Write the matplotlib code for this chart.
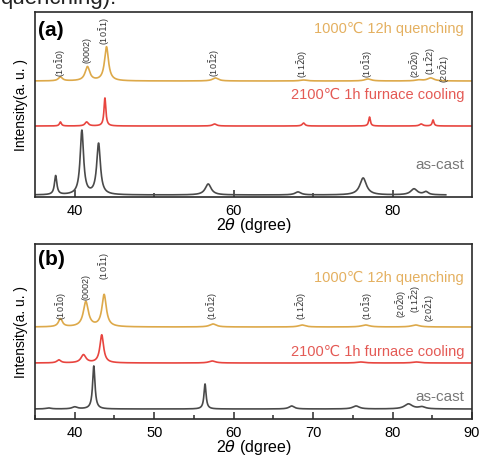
import numpy as np
import matplotlib
matplotlib.use("Agg")
import matplotlib.pyplot as plt
from matplotlib.ticker import MultipleLocator, FixedLocator

plt.rcParams['font.family'] = ['Liberation Sans', 'DejaVu Sans']
plt.rcParams['mathtext.fontset'] = 'dejavusans'

GOLD = '#DDA94A'
RED = '#E8453F'
DARK = '#4A4A4A'
GOLD_TXT = '#E4B060'
RED_TXT = '#E45A55'
GRAY_TXT = '#777777'

# ---- Panel (a) ----
a_gold_base = 116
a_gold_pos = [38.2, 41.6, 44.0, 57.7, 68.8, 76.9, 83.3, 84.8]
a_gold_hgt = [4, 14, 34, 3, 1, 2, 1, 3]
a_gold_wid = [0.3, 0.35, 0.3, 0.45, 0.5, 0.5, 0.5, 0.5]

a_red_base = 71
a_red_pos = [38.2, 41.5, 43.8, 57.6, 68.8, 77.1, 83.6, 85.1]
a_red_hgt = [4, 4, 28, 2, 3, 9, 2, 6]
a_red_wid = [0.15, 0.25, 0.14, 0.3, 0.2, 0.13, 0.25, 0.13]

a_cast_base = 2
a_cast_pos = [37.6, 40.9, 43.0, 56.8, 68.1, 76.3, 82.7, 84.2]
a_cast_hgt = [19, 64, 51, 11, 3, 17, 6, 3]
a_cast_wid = [0.18, 0.26, 0.28, 0.45, 0.45, 0.5, 0.5, 0.35]
a_cast_end = 86.7

# ---- Panel (b) ----
b_gold_base = 92
b_gold_pos = [38.2, 41.4, 43.7, 57.4, 68.6, 76.6, 82.9]
b_gold_hgt = [8, 25, 32, 3, 2, 2, 2]
b_gold_wid = [0.3, 0.38, 0.33, 0.5, 0.5, 0.6, 0.6]

b_red_base = 56
b_red_pos = [38.0, 41.1, 43.4, 57.3, 76.0, 83.0]
b_red_hgt = [3, 8, 28, 2, 1, 1]
b_red_wid = [0.3, 0.38, 0.28, 0.5, 0.6, 0.6]

b_cast_base = 10
b_cast_pos = [36.7, 40.0, 42.4, 56.4, 67.3, 75.4, 82.0, 83.7]
b_cast_hgt = [1, 2, 43, 25, 3, 3, 5, 2]
b_cast_wid = [0.4, 0.4, 0.18, 0.16, 0.4, 0.5, 0.6, 0.5]

# Miller index labels
hkl = [r'(10$\bar{1}$0)', '(0002)', r'(10$\bar{1}$1)', r'(10$\bar{1}$2)',
       r'(11$\bar{2}$0)', r'(10$\bar{1}$3)', r'(20$\bar{2}$0)',
       r'(11$\bar{2}$2)', r'(20$\bar{2}$1)']
a_hkl_x = [38.2, 41.5, 43.8, 57.6, 68.7, 76.8, 82.9, 84.8, 86.5]
a_hkl_y = [121, 135, 153, 121, 120, 120, 120, 123, 115]
b_hkl_x = [38.4, 41.4, 43.8, 57.3, 68.6, 76.8, 81.1, 82.9, 84.6]
b_hkl_y = [100, 120, 140, 100, 100, 100, 102, 107, 98]

series_names = ['1000\u2103 12h quenching', '2100\u2103 1h furnace cooling', 'as-cast']


def pattern(x, base, pos, hgt, wid):
    y = np.full_like(x, float(base))
    for c, h, w in zip(pos, hgt, wid):
        y += h * w ** 2 / ((x - c) ** 2 + w ** 2)
    return y


fig = plt.figure(figsize=(4.8, 4.6), dpi=100)
ax_a = fig.add_axes([35 / 480, 1 - 198 / 460, 437 / 480, 185 / 460])
ax_b = fig.add_axes([35 / 480, 1 - 420 / 460, 437 / 480, 175 / 460])

x_full = np.linspace(35, 90, 4000)
x_cast_a = np.linspace(35, a_cast_end, 4000)

ax_a.plot(x_full, pattern(x_full, a_gold_base, a_gold_pos, a_gold_hgt, a_gold_wid), color=GOLD, lw=1.2)
ax_a.plot(x_full, pattern(x_full, a_red_base, a_red_pos, a_red_hgt, a_red_wid), color=RED, lw=1.2)
ax_a.plot(x_cast_a, pattern(x_cast_a, a_cast_base, a_cast_pos, a_cast_hgt, a_cast_wid), color=DARK, lw=1.2)

ax_b.plot(x_full, pattern(x_full, b_gold_base, b_gold_pos, b_gold_hgt, b_gold_wid), color=GOLD, lw=1.2)
ax_b.plot(x_full, pattern(x_full, b_red_base, b_red_pos, b_red_hgt, b_red_wid), color=RED, lw=1.2)
ax_b.plot(x_full, pattern(x_full, b_cast_base, b_cast_pos, b_cast_hgt, b_cast_wid), color=DARK, lw=1.2)

ax_a.set_ylim(0, 185)
ax_b.set_ylim(0, 175)

for ax, hx, hy in ((ax_a, a_hkl_x, a_hkl_y), (ax_b, b_hkl_x, b_hkl_y)):
    for t, xv, yv in zip(hkl, hx, hy):
        ax.text(xv, yv, t, rotation=90, ha='center', va='bottom', fontsize=6.5,
                color='#333333')

label_y_a = [169, 103, 33]
label_y_b = [142, 68, 23]
label_colors = [GOLD_TXT, RED_TXT, GRAY_TXT]
label_sizes = [10.5, 10.5, 11]
for ax, ys in ((ax_a, label_y_a), (ax_b, label_y_b)):
    for name, yv, c, fs in zip(series_names, ys, label_colors, label_sizes):
        ax.text(0.982, yv, name, transform=ax.get_yaxis_transform(), ha='right',
                va='center', fontsize=fs, color=c)

ax_a.text(0.008, 0.905, '(a)', transform=ax_a.transAxes, fontsize=15,
          fontweight='bold', va='center', ha='left')
ax_b.text(0.008, 0.915, '(b)', transform=ax_b.transAxes, fontsize=15,
          fontweight='bold', va='center', ha='left')

for ax in (ax_a, ax_b):
    ax.set_xlim(35, 90)
    ax.set_yticks([])
    ax.set_ylabel('Intensity(a. u. )', fontsize=10, labelpad=5)
    ax.set_xlabel(r'2$\theta$ (dgree)', fontsize=11.5, labelpad=-1)
    for s in ax.spines.values():
        s.set_linewidth(1.2)
        s.set_color('#2A2A2A')
    ax.tick_params(axis='x', which='both', direction='in', labelsize=10.5,
                   width=1.1, color='#2A2A2A', pad=4)
    ax.tick_params(axis='x', which='major', length=5)
    ax.tick_params(axis='x', which='minor', length=3)

ax_a.xaxis.set_major_locator(FixedLocator([40, 60, 80]))
ax_a.xaxis.set_minor_locator(FixedLocator([50, 70]))
ax_b.xaxis.set_major_locator(MultipleLocator(10))
ax_b.xaxis.set_minor_locator(MultipleLocator(5))

fig.text(0.0, 1.003, 'quenching).', fontsize=16, va='center', ha='left', color='#222222')

fig.savefig('out.png', dpi=100)
